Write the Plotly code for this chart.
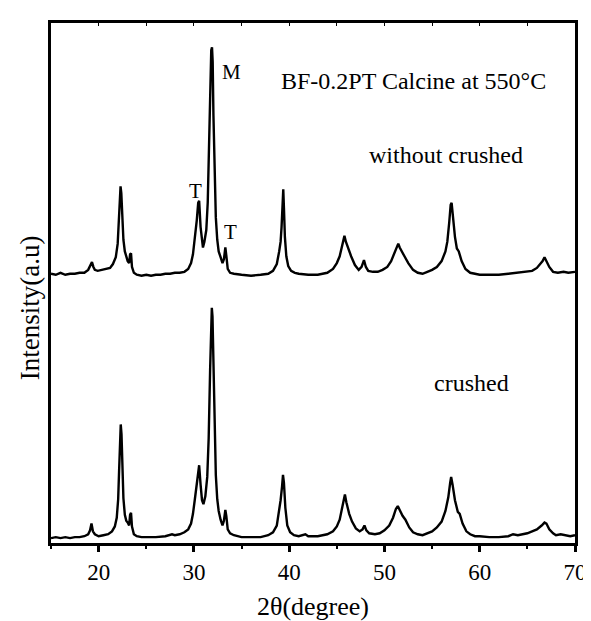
import plotly.graph_objects as go

# ---- data (2theta in degrees, intensity in a.u.) ----
two_theta_crushed = [15.0, 15.5, 16.0, 16.5, 17.0, 17.5, 18.0, 18.5, 18.9, 19.1, 19.25, 19.4, 19.6, 19.8, 20.0, 20.5,
                     21.0, 21.4, 21.7, 21.9, 22.05, 22.15, 22.25, 22.32, 22.4, 22.5, 22.6, 22.75, 22.9, 23.05, 23.2,
                     23.3, 23.4, 23.5, 23.7, 24.0, 24.5, 25.0, 26.0, 27.0, 27.7, 28.0, 28.5, 29.0, 29.4, 29.7, 29.9,
                     30.1, 30.3, 30.45, 30.55, 30.7, 30.85, 31.0, 31.2, 31.4, 31.55, 31.7, 31.8, 31.88, 31.95, 32.05,
                     32.15, 32.3, 32.45, 32.6, 32.8, 33.0, 33.15, 33.3, 33.4, 33.55, 33.8, 34.2, 35.0, 36.0, 37.0,
                     37.8, 38.3, 38.7, 38.95, 39.1, 39.25, 39.35, 39.45, 39.6, 39.8, 40.1, 40.5, 41.0, 41.7, 42.0,
                     43.0, 44.0, 44.6, 45.0, 45.3, 45.55, 45.75, 45.85, 46.0, 46.3, 46.6, 47.0, 47.4, 47.7, 47.9,
                     48.1, 48.4, 49.0, 49.5, 50.0, 50.5, 50.9, 51.2, 51.4, 51.6, 51.9, 52.2, 52.6, 53.0, 53.5, 54.0,
                     54.5, 55.0, 55.5, 56.0, 56.4, 56.7, 56.9, 57.0, 57.15, 57.4, 57.7, 57.9, 58.2, 58.6, 59.0, 59.5,
                     60.0, 61.0, 62.0, 63.0, 63.5, 64.0, 64.5, 65.0, 65.5, 66.0, 66.5, 66.8, 67.0, 67.3, 67.7, 68.0,
                     68.5, 69.0, 69.5, 70.0]
intensity_crushed = [5, 6, 5, 6, 5, 6, 6, 7, 9, 13, 20, 12, 9, 8, 7, 8,
                     9, 12, 17, 26, 45, 75, 105, 122, 112, 72, 46, 29, 23, 21, 18,
                     29, 31, 17, 9, 7, 6, 6, 6, 7, 9, 8, 9, 11, 14, 20, 30,
                     45, 62, 78, 80, 60, 44, 40, 48, 68, 108, 178, 225, 242, 233, 178,
                     118, 70, 45, 33, 24, 18, 23, 34, 28, 14, 10, 8, 6, 6, 6,
                     8, 11, 18, 33, 44, 58, 70, 62, 36, 18, 11, 8, 7, 9, 7,
                     7, 9, 12, 17, 24, 36, 48, 50, 42, 30, 22, 15, 12, 14, 18,
                     13, 10, 9, 10, 13, 18, 26, 35, 38, 34, 28, 24, 16, 11, 9, 8,
                     10, 12, 16, 22, 33, 47, 62, 68, 60, 44, 32, 30, 20, 12, 9, 7,
                     7, 6, 6, 7, 9, 8, 9, 10, 12, 14, 18, 21, 20, 14, 10, 8,
                     9, 8, 7, 8]

two_theta_uncrushed = [15.0, 15.5, 16.0, 16.5, 17.0, 17.5, 18.0, 18.5, 18.9, 19.1, 19.3, 19.45, 19.6, 19.9, 20.3, 20.8,
                       21.2, 21.5, 21.8, 22.0, 22.1, 22.2, 22.3, 22.38, 22.5, 22.6, 22.75, 22.9, 23.05, 23.2, 23.3,
                       23.4, 23.5, 23.7, 24.0, 24.5, 25.0, 25.5, 26.0, 26.5, 27.0, 27.5, 28.0, 28.5, 29.0, 29.4, 29.7,
                       29.9, 30.1, 30.3, 30.45, 30.55, 30.7, 30.85, 30.95, 31.1, 31.3, 31.45, 31.6, 31.72, 31.82, 31.9,
                       31.97, 32.05, 32.15, 32.3, 32.45, 32.6, 32.8, 33.0, 33.15, 33.3, 33.4, 33.55, 33.8, 34.2, 35.0,
                       36.0, 37.0, 37.8, 38.3, 38.7, 38.95, 39.1, 39.2, 39.3, 39.38, 39.45, 39.55, 39.7, 39.9, 40.2,
                       40.6, 41.0, 42.0, 43.0, 44.0, 44.6, 45.0, 45.3, 45.55, 45.7, 45.8, 45.95, 46.2, 46.5, 46.9,
                       47.3, 47.6, 47.85, 48.05, 48.3, 48.8, 49.3, 49.8, 50.3, 50.7, 51.0, 51.3, 51.45, 51.6, 51.8,
                       52.1, 52.5, 53.0, 53.5, 54.0, 54.5, 55.0, 55.5, 56.0, 56.4, 56.6, 56.8, 56.95, 57.05, 57.2,
                       57.4, 57.6, 57.8, 58.1, 58.5, 59.0, 59.5, 60.0, 61.0, 62.0, 63.0, 64.0, 65.0, 65.5, 66.0, 66.4,
                       66.6, 66.8, 67.0, 67.3, 67.7, 68.2, 68.8, 69.3, 70.0]
intensity_uncrushed = [7, 6, 8, 6, 7, 7, 8, 8, 11, 15, 19, 14, 11, 10, 11, 12,
                       13, 17, 24, 38, 55, 78, 97, 90, 60, 42, 30, 24, 20, 18, 27,
                       28, 14, 8, 6, 5, 6, 5, 6, 6, 7, 7, 8, 8, 9, 12, 18,
                       27, 42, 62, 80, 82, 55, 38, 34, 40, 52, 80, 140, 200, 237, 240,
                       225, 170, 110, 65, 42, 30, 24, 18, 22, 34, 26, 12, 8, 7, 6,
                       5, 6, 7, 10, 17, 30, 40, 55, 80, 94, 75, 45, 25, 15, 10,
                       8, 7, 6, 6, 8, 12, 18, 25, 35, 44, 46, 40, 32, 25, 16,
                       11, 14, 21, 14, 10, 9, 9, 11, 14, 20, 28, 35, 38, 34, 30,
                       25, 18, 11, 8, 7, 9, 11, 14, 20, 30, 40, 60, 78, 80, 65,
                       45, 33, 30, 20, 12, 8, 7, 6, 6, 6, 7, 8, 9, 10, 13, 18,
                       20, 24, 20, 14, 9, 8, 9, 8, 9]
uncrushed_offset = 270

series_names = ["crushed", "without crushed"]
phase_labels = [("M", 33.9, 485), ("T", 30.2, 362), ("T", 33.8, 320)]
title_text = "BF-0.2PT Calcine at 550°C"
x_ticks = [20, 30, 40, 50, 60, 70]

FONT = "'Liberation Serif', 'Times New Roman', Times, serif"

fig = go.Figure()
fig.add_trace(go.Scatter(x=two_theta_crushed, y=intensity_crushed, mode="lines",
                         line=dict(color="black", width=2.4), name=series_names[0], showlegend=False))
fig.add_trace(go.Scatter(x=two_theta_uncrushed, y=[v + uncrushed_offset for v in intensity_uncrushed],
                         mode="lines", line=dict(color="black", width=2.4), name=series_names[1],
                         showlegend=False))
# invisible trace carrying the top-axis ticks
fig.add_trace(go.Scatter(x=[15, 70], y=[0, 0], xaxis="x2", mode="lines",
                         line=dict(width=0), hoverinfo="skip", showlegend=False))

annotations = []
for txt, x, y in phase_labels:
    annotations.append(dict(x=x, y=y, text=txt, showarrow=False, xref="x", yref="y",
                            font=dict(family=FONT, size=21, color="black")))
annotations.append(dict(x=53.1, y=475, text=title_text, showarrow=False,
                        font=dict(family=FONT, size=24, color="black")))
annotations.append(dict(x=56.5, y=399, text=series_names[1], showarrow=False,
                        font=dict(family=FONT, size=24, color="black")))
annotations.append(dict(x=59.1, y=165, text=series_names[0], showarrow=False,
                        font=dict(family=FONT, size=24, color="black")))
# y-axis title (centre at about 21 px from the left, 305 px from the top)
annotations.append(dict(x=(21 - 43) / 534, y=(547 - 305) / 535, xref="paper", yref="paper",
                        xanchor="center", yanchor="middle", text="Intensity(a.u)",
                        showarrow=False, textangle=-90,
                        font=dict(family=FONT, size=27, color="black")))

fig.update_layout(
    width=591, height=621,
    margin=dict(l=43, r=14, t=12, b=74),
    paper_bgcolor="white", plot_bgcolor="white",
    font=dict(family=FONT, color="black"),
    annotations=annotations,
    xaxis=dict(range=[15, 70], tickvals=x_ticks, ticks="outside", ticklen=6, tickwidth=2.5,
               tickcolor="black", showline=True, linewidth=3, linecolor="black", mirror=True,
               showgrid=False, zeroline=False, tickfont=dict(family=FONT, size=23),
               minor=dict(dtick=5, tick0=15, ticks="outside", ticklen=3, tickwidth=2, tickcolor="black"),
               title=dict(text="2θ(degree)", font=dict(family=FONT, size=26), standoff=14)),
    xaxis2=dict(range=[15, 70], overlaying="x", side="top", dtick=5, tick0=15, ticks="inside",
                ticklen=3, tickwidth=1, tickcolor="black", showticklabels=False, showgrid=False,
                zeroline=False, showline=False),
    yaxis=dict(range=[0, 535], showticklabels=False, ticks="", showgrid=False, zeroline=False,
               showline=True, linewidth=3, linecolor="black", mirror=True),
)

fig.write_html("out.html")
